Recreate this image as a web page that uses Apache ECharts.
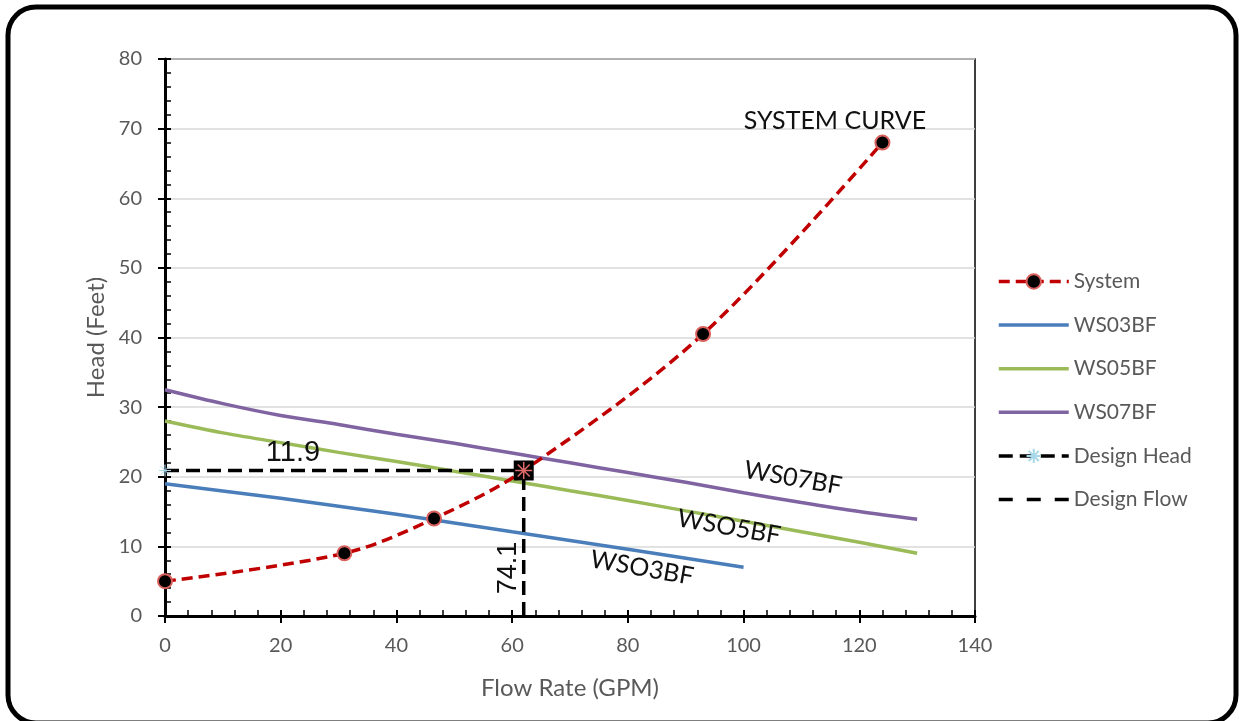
<!DOCTYPE html>
<html>
<head>
<meta charset="utf-8">
<script src="https://cdn.jsdelivr.net/npm/echarts@6/dist/echarts.min.js"></script>
<style>
html,body{margin:0;padding:0;background:#fff;}
#chart{width:1239px;height:721px;}
</style>
</head>
<body>
<div id="chart"></div>
<script>
// ---- data ----
const systemFlow = [0, 31, 46.5, 62, 93, 124];
const systemHead = [5, 9, 14, 20.9, 40.5, 68];

const ws03Flow = [0, 20, 40, 60, 80, 100];
const ws03Head = [19, 16.9, 14.6, 12.1, 9.6, 7.0];

const ws05Flow = [0, 10, 20, 30, 40, 50, 60, 70, 80, 90, 100, 110, 120, 130];
const ws05Head = [28, 26.3, 24.9, 23.5, 22.2, 20.8, 19.4, 18.0, 16.6, 15.1, 13.6, 12.1, 10.6, 9.0];

const ws07Flow = [0, 10, 20, 30, 40, 50, 60, 70, 80, 90, 100, 110, 120, 130];
const ws07Head = [32.5, 30.5, 28.8, 27.5, 26.1, 24.8, 23.4, 22.0, 20.6, 19.2, 17.7, 16.3, 15.0, 13.9];

const designFlow = 62;
const designHead = 20.9;

const xTicks = {min: 0, max: 140, interval: 20};
const yTicks = {min: 0, max: 80, interval: 10};

const seriesNames = ['System', 'WS03BF', 'WS05BF', 'WS07BF', 'Design Head', 'Design Flow'];

const zip = (xs, ys) => xs.map((x, i) => [x, ys[i]]);

// ---- styles ----
const FONT = 'Lato';
const GRAY = '#595959';
const asterisk = 'path://M0,5 L10,5 M5,0 L5,10 M1.5,1.5 L8.5,8.5 M8.5,1.5 L1.5,8.5';
const solidIcon = 'path://M0,0 L70,0 L70,3.5 L0,3.5 Z';
const dashIcon = 'path://M0,0 h14 v3.5 h-14 Z M28,0 h14 v3.5 h-14 Z M56,0 h14 v3.5 h-14 Z';

const chart = echarts.init(document.getElementById('chart'));

const axisCommonX = {type: 'value', min: xTicks.min, max: xTicks.max, interval: xTicks.interval, position: 'bottom', gridIndex: 0};
const axisCommonY = {type: 'value', min: yTicks.min, max: yTicks.max, interval: yTicks.interval, position: 'left', gridIndex: 0};

const legendIcons = {'WS03BF': solidIcon, 'WS05BF': solidIcon, 'WS07BF': solidIcon, 'Design Flow': dashIcon};

const option = {
  backgroundColor: '#fff',
  animation: false,
  grid: {left: 165, right: 264, top: 59, bottom: 105, show: true, borderColor: '#000', borderWidth: 1.5, backgroundColor: 'transparent'},
  xAxis: [
    Object.assign({}, axisCommonX, {
      name: 'Flow Rate (GPM)', nameLocation: 'middle', nameGap: 60,
      nameTextStyle: {fontFamily: FONT, fontSize: 24, color: GRAY},
      axisLine: {lineStyle: {color: '#000', width: 3}},
      axisTick: {inside: false, length: 7, lineStyle: {color: '#000', width: 2}},
      axisLabel: {margin: 20, fontFamily: FONT, fontSize: 20, color: GRAY},
      splitLine: {show: false}
    }),
    Object.assign({}, axisCommonX, {
      axisLine: {show: false},
      axisTick: {inside: true, length: 6, lineStyle: {color: '#000', width: 2}},
      minorTick: {show: true, splitNumber: 5, length: 6, lineStyle: {color: '#000', width: 1.5}},
      axisLabel: {show: false},
      splitLine: {show: false}
    })
  ],
  yAxis: [
    Object.assign({}, axisCommonY, {
      name: 'Head (Feet)', nameLocation: 'middle', nameGap: 57, nameRotate: 90,
      nameTextStyle: {fontFamily: FONT, fontSize: 24, color: GRAY},
      axisLine: {lineStyle: {color: '#000', width: 3}},
      axisTick: {inside: false, length: 7, lineStyle: {color: '#000', width: 2}},
      axisLabel: {margin: 23, fontFamily: FONT, fontSize: 20, color: GRAY},
      splitLine: {show: true, lineStyle: {color: '#d9d9d9', width: 1.5}}
    }),
    Object.assign({}, axisCommonY, {
      axisLine: {show: false},
      axisTick: {inside: true, length: 6, lineStyle: {color: '#000', width: 2}},
      minorTick: {show: true, splitNumber: 5, length: 6, lineStyle: {color: '#000', width: 1.5}},
      axisLabel: {show: false},
      splitLine: {show: false}
    })
  ],
  legend: {
    data: seriesNames.map(n => legendIcons[n] ? {name: n, icon: legendIcons[n]} : {name: n}),
    orient: 'vertical',
    left: 992, top: 266,
    itemWidth: 70, itemHeight: 18, itemGap: 22.6,
    lineStyle: {width: 3.5},
    textStyle: {fontFamily: FONT, fontSize: 21, color: GRAY}
  },
  series: [
    {
      name: 'WS03BF', type: 'line', data: zip(ws03Flow, ws03Head), smooth: 0.3, symbol: 'none',
      lineStyle: {color: '#4a7ebb', width: 3.5}, itemStyle: {color: '#4a7ebb'}, z: 2
    },
    {
      name: 'WS05BF', type: 'line', data: zip(ws05Flow, ws05Head), smooth: 0.3, symbol: 'none',
      lineStyle: {color: '#9bbb59', width: 3.5}, itemStyle: {color: '#9bbb59'}, z: 2
    },
    {
      name: 'WS07BF', type: 'line', data: zip(ws07Flow, ws07Head), smooth: 0.3, symbol: 'none',
      lineStyle: {color: '#8064a2', width: 3.5}, itemStyle: {color: '#8064a2'}, z: 2
    },
    {
      name: 'Design Head', type: 'line', data: [[0, designHead], [designFlow, designHead]],
      symbol: asterisk, symbolSize: 12,
      lineStyle: {color: '#000', width: 3.5, type: [14, 7]},
      itemStyle: {color: 'rgba(0,0,0,0)', borderColor: '#a8d8ea', borderWidth: 1}, z: 3
    },
    {
      name: 'Design Flow', type: 'line', data: [[designFlow, 0], [designFlow, designHead]],
      symbol: 'none',
      lineStyle: {color: '#000', width: 3.5, type: [14, 7]},
      itemStyle: {color: '#000'}, z: 3,
      markPoint: {
        silent: true,
        label: {show: false},
        data: [
          {coord: [designFlow, designHead], symbol: 'rect', symbolSize: 20, itemStyle: {color: '#000'}},
          {coord: [designFlow, designHead], symbol: asterisk, symbolSize: 17,
           itemStyle: {color: 'rgba(0,0,0,0)', borderColor: '#e06a6a', borderWidth: 1.5}}
        ]
      }
    },
    {
      name: 'System', type: 'line', data: zip(systemFlow, systemHead), smooth: 0.33,
      symbol: 'circle', symbolSize: 14,
      lineStyle: {color: '#c00000', width: 3.5, type: [11, 6]},
      itemStyle: {color: '#000', borderColor: '#d9605c', borderWidth: 2}, z: 4
    }
  ],
  graphic: [
    {type: 'rect', shape: {x: 8, y: 7, width: 1228, height: 716, r: 28},
     style: {fill: 'none', stroke: '#000', lineWidth: 5}, silent: true, z: 100},
    {type: 'text', x: 835, y: 121, style: {text: 'SYSTEM CURVE', fontFamily: FONT, fontSize: 25, fill: '#111', align: 'center', verticalAlign: 'middle'}, z: 50},
    {type: 'text', x: 293, y: 453, style: {text: '11.9', fontFamily: 'Liberation Sans', fontSize: 29, fill: '#111', align: 'center', verticalAlign: 'middle'}, z: 50},
    {type: 'text', x: 509, y: 568, rotation: Math.PI / 2, style: {text: '74.1', fontFamily: 'Liberation Sans', fontSize: 27, fill: '#111', align: 'center', verticalAlign: 'middle'}, z: 50},
    {type: 'text', x: 793, y: 478, rotation: -10 * Math.PI / 180, style: {text: 'WS07BF', fontFamily: FONT, fontSize: 25, fill: '#111', align: 'center', verticalAlign: 'middle'}, z: 50},
    {type: 'text', x: 729, y: 527, rotation: -10 * Math.PI / 180, style: {text: 'WSO5BF', fontFamily: FONT, fontSize: 25, fill: '#111', align: 'center', verticalAlign: 'middle'}, z: 50},
    {type: 'text', x: 642, y: 568, rotation: -10 * Math.PI / 180, style: {text: 'WSO3BF', fontFamily: FONT, fontSize: 25, fill: '#111', align: 'center', verticalAlign: 'middle'}, z: 50}
  ]
};

chart.setOption(option);
</script>
</body>
</html>
